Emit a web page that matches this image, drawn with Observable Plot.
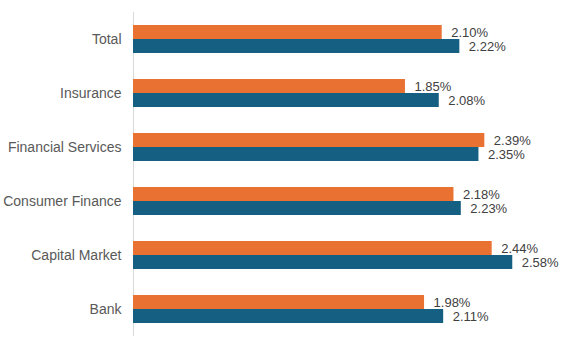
<!DOCTYPE html>
<html>
<head>
<meta charset="utf-8">
<script src="https://cdn.jsdelivr.net/npm/d3@7"></script>
<script src="https://cdn.jsdelivr.net/npm/@observablehq/plot@0.6"></script>
<style>
  html, body { margin: 0; padding: 0; background: #fff; }
</style>
</head>
<body>
<div id="chart"></div>
<script>
const categories = ["Total", "Insurance", "Financial Services", "Consumer Finance", "Capital Market", "Bank"];
const series1Values = [2.22, 2.08, 2.35, 2.23, 2.58, 2.11]; // dark blue (lower bar)
const series2Values = [2.10, 1.85, 2.39, 2.18, 2.44, 1.98]; // orange (upper bar)

const blue = "#156082";
const orange = "#E97132";

const s1 = categories.map((c, i) => ({category: c, value: series1Values[i]}));
const s2 = categories.map((c, i) => ({category: c, value: series2Values[i]}));
const fmt = v => d3.format(".2f")(v) + "%";

const chart = Plot.plot({
  width: 583,
  height: 338,
  marginTop: 12,
  marginBottom: 2,
  marginLeft: 133,
  marginRight: 9,
  style: {fontFamily: "'Liberation Sans', Arial, sans-serif", background: "#fff"},
  x: {domain: [0, 3], axis: null},
  y: {domain: categories, paddingInner: 0.48, paddingOuter: 0.24, label: null},
  marks: [
    Plot.axisY({tickSize: 0, tickPadding: 12, fontSize: 14, color: "#595959", label: null}),
    Plot.ruleX([0], {stroke: "#d9d9d9", strokeWidth: 1}),
    Plot.barX(s2, {x: "value", y: "category", fill: orange, insetBottom: 14}),
    Plot.barX(s1, {x: "value", y: "category", fill: blue, insetTop: 14}),
    Plot.text(s2, {x: "value", y: "category", text: d => fmt(d.value), textAnchor: "start", dx: 9, dy: -7, fontSize: 13, fill: "#404040"}),
    Plot.text(s1, {x: "value", y: "category", text: d => fmt(d.value), textAnchor: "start", dx: 9, dy: 7, fontSize: 13, fill: "#404040"})
  ]
});
document.getElementById("chart").appendChild(chart);
</script>
</body>
</html>
